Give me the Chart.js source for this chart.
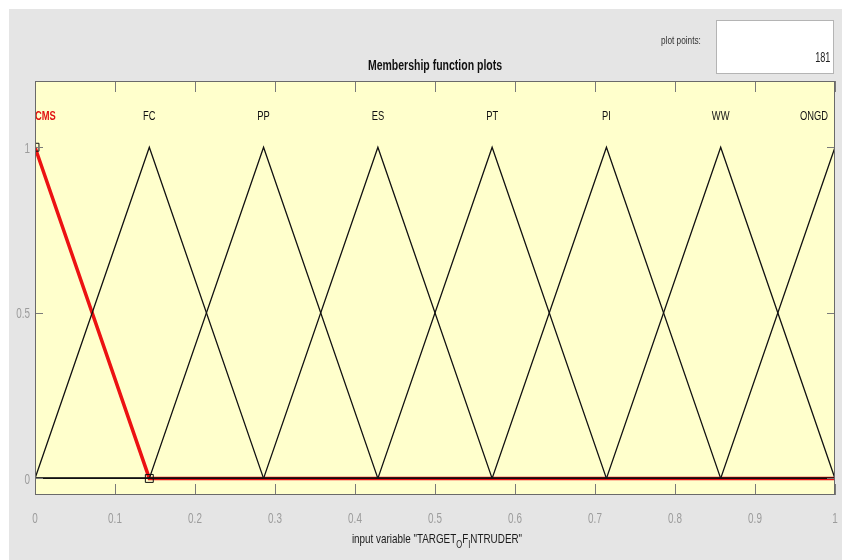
<!DOCTYPE html>
<html>
<head>
<meta charset="utf-8">
<script src="https://cdn.jsdelivr.net/npm/chart.js@4.4.1/dist/chart.umd.min.js"></script>
<style>
    html, body {
        margin: 0;
        padding: 0;
        background: #ffffff;
        font-family: "Liberation Sans", Arial, sans-serif;
    }
    #page {
        position: relative;
        width: 842px;
        height: 560px;
        overflow: hidden;
    }
    #figure {
        position: absolute;
        left: 9px;
        top: 9px;
        width: 833px;
        height: 551px;
        background: #e5e5e5;
    }
    #mfChart {
        position: absolute;
        left: 0;
        top: 0;
    }
    .label {
        position: absolute;
        white-space: nowrap;
        line-height: 1;
    }
    #plotPointsLabel {
        left: 661px;
        top: 35px;
        font-size: 11px;
        color: #333333;
        transform: scaleX(0.75);
        transform-origin: left center;
    }
    #plotPointsBox {
        position: absolute;
        left: 716px;
        top: 20px;
        width: 116px;
        height: 52px;
        background: #ffffff;
        border: 1px solid #b4b4b4;
    }
    #plotPointsValue {
        right: 3px;
        top: 29px;
        font-size: 14px;
        color: #222222;
        transform: scaleX(0.65);
        transform-origin: right center;
    }
    #plotTitle {
        left: 435px;
        top: 58px;
        transform: translateX(-50%) scaleX(0.75);
        font-size: 14px;
        font-weight: bold;
        color: #111111;
    }
    #xTitle {
        left: 437px;
        top: 532px;
        transform: translateX(-50%) scaleX(0.76);
        font-size: 13px;
        color: #1a1a1a;
    }
    #xTitle sub {
        font-size: 10px;
        vertical-align: -5px;
        line-height: 0;
    }
</style>
</head>
<body>
<div id="page">
    <div id="figure"></div>
    <canvas id="mfChart" width="842" height="560"></canvas>
    <div class="label" id="plotPointsLabel">plot points:</div>
    <div id="plotPointsBox"><div class="label" id="plotPointsValue">181</div></div>
    <div class="label" id="plotTitle">Membership function plots</div>
    <div class="label" id="xTitle">input variable "TARGET<sub>O</sub>F<sub>I</sub>NTRUDER"</div>
</div>
<script>
const xTickValues = [0, 0.1, 0.2, 0.3, 0.4, 0.5, 0.6, 0.7, 0.8, 0.9, 1];
const xTickLabels = ['0', '0.1', '0.2', '0.3', '0.4', '0.5', '0.6', '0.7', '0.8', '0.9', '1'];
const yTickValues = [0, 0.5, 1];
const yTickLabels = ['0', '0.5', '1'];

const mfNames = ['CMS', 'FC', 'PP', 'ES', 'PT', 'PI', 'WW', 'ONGD'];
const mfPeaks = [0, 0.1429, 0.2857, 0.4286, 0.5714, 0.7143, 0.8571, 1];
const mfLabelLevel = 1.1;

// vertices of each membership function over the input range
const cmsX = [0, 0.1429, 1];
const cmsY = [1, 0, 0];
const fcX = [0, 0.1429, 0.2857, 1];
const fcY = [0, 1, 0, 0];
const ppX = [0, 0.1429, 0.2857, 0.4286, 1];
const ppY = [0, 0, 1, 0, 0];
const esX = [0, 0.2857, 0.4286, 0.5714, 1];
const esY = [0, 0, 1, 0, 0];
const ptX = [0, 0.4286, 0.5714, 0.7143, 1];
const ptY = [0, 0, 1, 0, 0];
const piX = [0, 0.5714, 0.7143, 0.8571, 1];
const piY = [0, 0, 1, 0, 0];
const wwX = [0, 0.7143, 0.8571, 1];
const wwY = [0, 0, 1, 0];
const ongdX = [0, 0.8571, 1];
const ongdY = [0, 0, 1];

// edit handles on the selected function (CMS)
const handleX = [0, 0.1429];
const handleY = [1, 0];

const FONT = '"Liberation Sans", Arial, sans-serif';

const toPoints = (xs, ys) => xs.map((x, i) => ({ x, y: ys[i] }));

const blackLine = (label, xs, ys) => ({
    label,
    data: toPoints(xs, ys),
    borderColor: '#111111',
    borderWidth: 1.3,
    pointRadius: 0,
    tension: 0,
    fill: false,
    order: 0,
});

// the reference text is narrow, so squeeze it horizontally
const squeezedText = (ctx, text, x, y, align, sx) => {
    ctx.save();
    ctx.translate(x, y);
    ctx.scale(sx, 1);
    ctx.textAlign = align;
    ctx.textBaseline = 'alphabetic';
    ctx.fillText(text, 0, 0);
    ctx.restore();
};

const plotBackground = {
    id: 'plotBackground',
    beforeDraw: (chart) => {
        const { ctx, chartArea } = chart;
        ctx.save();
        ctx.fillStyle = '#ffffcc';
        ctx.fillRect(chartArea.left, chartArea.top, chartArea.right - chartArea.left, chartArea.bottom - chartArea.top);
        ctx.restore();
    },
};

const frameAndTicks = {
    id: 'frameAndTicks',
    afterDraw: (chart) => {
        const { ctx, chartArea } = chart;
        const xScale = chart.scales.x;
        const yScale = chart.scales.y;
        ctx.save();
        ctx.strokeStyle = '#7a7a7a';
        ctx.lineWidth = 1;
        ctx.beginPath();
        xTickValues.forEach((value) => {
            const px = Math.round(xScale.getPixelForValue(value)) + 0.5;
            ctx.moveTo(px, chartArea.bottom);
            ctx.lineTo(px, chartArea.bottom - 11);
            ctx.moveTo(px, chartArea.top);
            ctx.lineTo(px, chartArea.top + 11);
        });
        yTickValues.forEach((value) => {
            const py = Math.round(yScale.getPixelForValue(value)) + 0.5;
            ctx.moveTo(chartArea.left, py);
            ctx.lineTo(chartArea.left + 8, py);
            ctx.moveTo(chartArea.right, py);
            ctx.lineTo(chartArea.right - 8, py);
        });
        ctx.stroke();
        ctx.strokeStyle = '#6a6a6a';
        ctx.strokeRect(chartArea.left + 0.5, chartArea.top + 0.5, chartArea.right - chartArea.left - 1, chartArea.bottom - chartArea.top - 1);

        ctx.fillStyle = '#9c9c9c';
        ctx.font = '15px ' + FONT;
        xTickValues.forEach((value, i) => {
            squeezedText(ctx, xTickLabels[i], xScale.getPixelForValue(value), chartArea.bottom + 28, 'center', 0.66);
        });
        yTickValues.forEach((value, i) => {
            squeezedText(ctx, yTickLabels[i], chartArea.left - 5, yScale.getPixelForValue(value) + 5.5, 'right', 0.66);
        });
        ctx.restore();
    },
};

const mfLabels = {
    id: 'mfLabels',
    afterDatasetsDraw: (chart) => {
        const { ctx } = chart;
        const xScale = chart.scales.x;
        const yScale = chart.scales.y;
        const py = yScale.getPixelForValue(mfLabelLevel) + 5.5;
        ctx.save();
        mfNames.forEach((name, i) => {
            let px = xScale.getPixelForValue(mfPeaks[i]);
            let align = 'center';
            if (i === 0) {
                align = 'left';
                ctx.fillStyle = '#e01010';
                ctx.font = 'bold 13px ' + FONT;
            } else {
                if (i === mfNames.length - 1) {
                    align = 'right';
                    px -= 7;
                }
                ctx.fillStyle = '#111111';
                ctx.font = '13px ' + FONT;
            }
            squeezedText(ctx, name, px, py, align, 0.72);
        });
        ctx.restore();
    },
};

document.addEventListener('DOMContentLoaded', () => {
    const canvas = document.getElementById('mfChart');
    if (!canvas || typeof Chart === 'undefined') {
        return;
    }

    new Chart(canvas, {
        type: 'line',
        data: {
            datasets: [
                {
                    label: 'handles',
                    type: 'scatter',
                    data: toPoints(handleX, handleY),
                    pointStyle: 'rect',
                    pointRadius: 5.6,
                    borderColor: '#111111',
                    borderWidth: 1,
                    backgroundColor: 'rgba(0,0,0,0)',
                    showLine: false,
                    order: -1,
                },
                blackLine('FC', fcX, fcY),
                blackLine('PP', ppX, ppY),
                blackLine('ES', esX, esY),
                blackLine('PT', ptX, ptY),
                blackLine('PI', piX, piY),
                blackLine('WW', wwX, wwY),
                blackLine('ONGD', ongdX, ongdY),
                {
                    label: 'CMS',
                    data: toPoints(cmsX, cmsY),
                    borderColor: '#ec1212',
                    borderWidth: 3.5,
                    pointRadius: 0,
                    tension: 0,
                    fill: false,
                    order: 1,
                },
            ],
        },
        options: {
            responsive: false,
            devicePixelRatio: 1,
            animation: false,
            events: [],
            layout: {
                padding: { left: 0, top: 81, right: 7, bottom: 0 },
            },
            plugins: {
                legend: { display: false },
                tooltip: { enabled: false },
                title: { display: false },
            },
            scales: {
                x: {
                    type: 'linear',
                    min: 0,
                    max: 1,
                    afterBuildTicks: (scale) => {
                        scale.ticks = xTickValues.map((value) => ({ value }));
                    },
                    afterFit: (scale) => {
                        scale.height = 65;
                        scale.paddingLeft = 0;
                        scale.paddingRight = 0;
                    },
                    grid: { display: false, drawTicks: false },
                    border: { display: false },
                    ticks: { display: false },
                },
                y: {
                    type: 'linear',
                    min: -0.05,
                    max: 1.2,
                    afterBuildTicks: (scale) => {
                        scale.ticks = yTickValues.map((value) => ({ value }));
                    },
                    afterFit: (scale) => {
                        scale.width = 35;
                        scale.paddingTop = 0;
                        scale.paddingBottom = 0;
                    },
                    grid: { display: false, drawTicks: false },
                    border: { display: false },
                    ticks: { display: false },
                },
            },
        },
        plugins: [plotBackground, frameAndTicks, mfLabels],
    });
});
</script>
</body>
</html>
